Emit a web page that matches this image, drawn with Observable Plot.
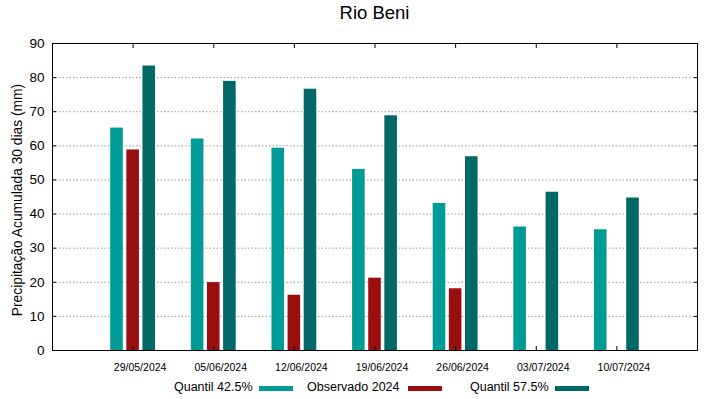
<!DOCTYPE html>
<html>
<head>
<meta charset="utf-8">
<script src="https://cdn.jsdelivr.net/npm/d3@7"></script>
<script src="https://cdn.jsdelivr.net/npm/@observablehq/plot@0.6"></script>
<style>
  html, body { margin: 0; padding: 0; background: #fff; }
  #wrap { position: relative; width: 719px; height: 399px; font-family: "Liberation Sans", Arial, sans-serif; }
  #title { position: absolute; left: 0; top: 1px; width: 719px; padding-left: 30px; box-sizing: border-box; text-align: center; font-size: 18.5px; line-height: 24px; color: #000; }
  #chart { position: absolute; left: 0; top: 30px; }
  .leg { position: absolute; top: 380px; font-size: 12.5px; line-height: 14px; color: #000; white-space: nowrap; }
  .sw { position: absolute; top: 386px; height: 5px; width: 34px; }
</style>
</head>
<body>
<div id="wrap">
  <div id="title">Rio Beni</div>
  <div id="chart"></div>
</div>
<script>
const dates = ["29/05/2024", "05/06/2024", "12/06/2024", "19/06/2024", "26/06/2024", "03/07/2024", "10/07/2024"];
const seriesNames = ["Quantil 42.5%", "Observado 2024", "Quantil 57.5%"];
const seriesColors = ["#009b97", "#990f0f", "#006865"];
const q425 = [65.2, 62.0, 59.3, 53.1, 43.1, 36.2, 35.4];
const obs2024 = [58.8, 19.9, 16.2, 21.2, 18.1, null, null];
const q575 = [83.4, 78.9, 76.6, 68.8, 56.8, 46.4, 44.7];
const yTicks = [0, 10, 20, 30, 40, 50, 60, 70, 80, 90];
const gridTicks = [10, 20, 30, 40, 50, 60, 70, 80];

const seriesValues = [q425, obs2024, q575];
const offsets = [-0.2, 0, 0.2];   // group offset of each series, in category units
const halfW = 0.078;              // half bar width, in category units
const FONT = '"Liberation Sans", Arial, sans-serif';

const rows = [];
seriesValues.forEach((vals, s) => {
  vals.forEach((v, i) => {
    if (v != null) rows.push({series: seriesNames[s], i, x1: i + offsets[s] - halfW, x2: i + offsets[s] + halfW, value: v});
  });
});

const chart = Plot.plot({
  width: 719,
  height: 348,
  marginLeft: 52,
  marginRight: 22,
  marginTop: 13,
  marginBottom: 28,
  style: {fontFamily: FONT, background: "#fff", color: "#000"},
  x: {type: "linear", domain: [-1, 7]},
  y: {domain: [0, 90]},
  color: {domain: seriesNames, range: seriesColors},
  marks: [
    Plot.ruleY(gridTicks, {stroke: "#9a9a9a", strokeDasharray: "1.5,2", strokeWidth: 1}),
    Plot.rectY(rows, {x1: "x1", x2: "x2", y1: 0, y2: "value", fill: "series"}),
    Plot.axisY({ticks: yTicks, tickSize: 0, tickPadding: 8, fontSize: 13.5, fontFamily: FONT, label: null}),
    Plot.axisY({ticks: yTicks, anchor: "left", tickSize: -4, tickFormat: () => "", label: null}),
    Plot.axisY({ticks: yTicks, anchor: "right", tickSize: -4, tickFormat: () => "", label: null}),
    Plot.axisX({ticks: d3.range(dates.length), tickSize: 0, tickPadding: 13, dx: 7, fontSize: 10.5, fontFamily: FONT, tickFormat: (d) => dates[d], label: null}),
    Plot.axisX({ticks: d3.range(dates.length), anchor: "bottom", tickSize: -4, tickFormat: () => "", label: null}),
    Plot.axisX({ticks: d3.range(dates.length), anchor: "top", tickSize: -4, tickFormat: () => "", label: null}),
    Plot.frame({stroke: "#000", strokeWidth: 1})
  ]
});

// y-axis title
const svgNS = "http://www.w3.org/2000/svg";
const t = document.createElementNS(svgNS, "text");
t.setAttribute("transform", "translate(21.5,170) rotate(-90)");
t.setAttribute("text-anchor", "middle");
t.setAttribute("font-size", "13.8");
t.setAttribute("font-family", FONT);
t.setAttribute("fill", "#000");
t.textContent = "Precipitação Acumulada 30 dias (mm)";
chart.appendChild(t);

document.getElementById("chart").appendChild(chart);

// legend
const wrap = document.getElementById("wrap");
const legendPos = [{textRight: 252.5, sw: 259}, {textRight: 399.5, sw: 407.5}, {textRight: 548.5, sw: 555}];
seriesNames.forEach((name, k) => {
  const sp = document.createElement("span");
  sp.className = "leg";
  sp.textContent = name;
  sp.style.right = (719 - legendPos[k].textRight) + "px";
  wrap.appendChild(sp);
  const sw = document.createElement("span");
  sw.className = "sw";
  sw.style.left = legendPos[k].sw + "px";
  sw.style.background = seriesColors[k];
  wrap.appendChild(sw);
});
</script>
</body>
</html>
